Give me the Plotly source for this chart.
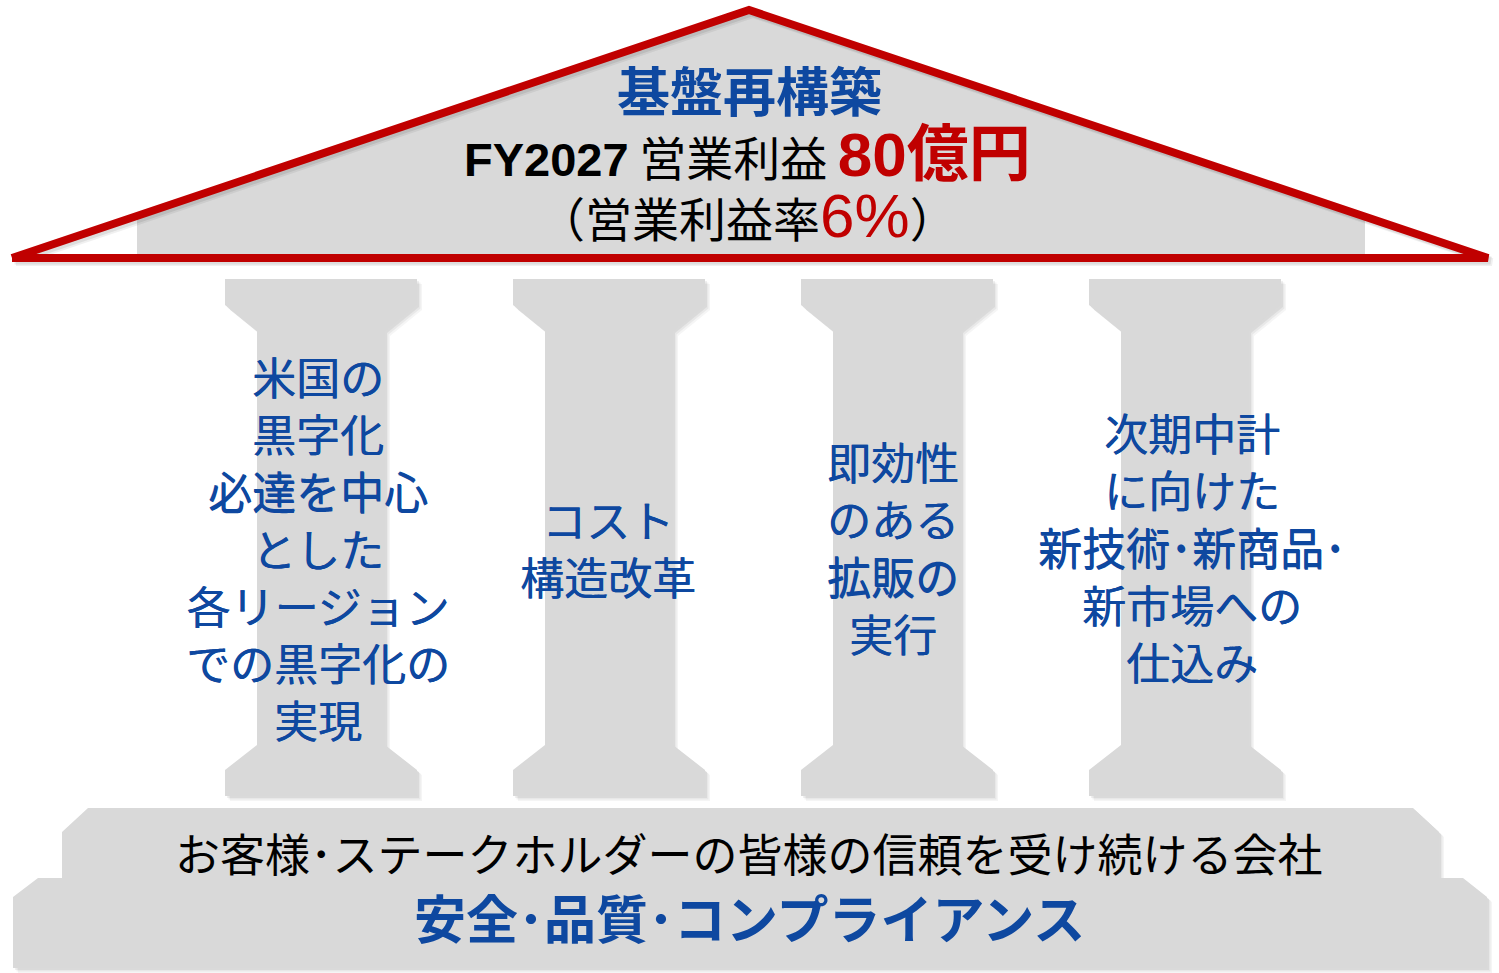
import plotly.graph_objects as go

# ---------------- content ----------------
roof_title = "基盤再構築"
target_prefix = "FY2027"
target_label = "営業利益"
target_value = "80億円"
margin_label = "営業利益率"
margin_value = "6%"

pillar_texts = [
    ["米国の", "黒字化", "必達を中心", "とした", "各リージョン", "での黒字化の", "実現"],
    ["コスト", "構造改革"],
    ["即効性", "のある", "拡販の", "実行"],
    ["次期中計", "に向けた", "新技術･新商品･", "新市場への", "仕込み"],
]
base_line1 = "お客様･ステークホルダーの皆様の信頼を受け続ける会社"
base_line2 = "安全･品質･コンプライアンス"

# ---------------- geometry / style ----------------
GREY = "#D9D9D9"
RED = "#C00000"
BLUE = "#0E48A0"
JP = "Noto Sans CJK JP"
LAT = "Liberation Sans"

pillar_left = [225, 513, 801, 1089]
pillar_text_cx = [318, 608, 893, 1192]
pillar_text_cy = [547, 547, 547, 546]

fig = go.Figure()

def poly(xs, ys, color, shadow=True):
    if shadow:
        for off, a in [(5, 0.04), (3.5, 0.05), (2, 0.06)]:
            fig.add_trace(go.Scatter(x=[v + off for v in xs] + [xs[0] + off],
                                     y=[v + off for v in ys] + [ys[0] + off],
                                     mode="lines", fill="toself",
                                     fillcolor=f"rgba(0,0,0,{a})", line=dict(width=0),
                                     hoverinfo="skip"))
    fig.add_trace(go.Scatter(x=xs + [xs[0]], y=ys + [ys[0]], mode="lines", fill="toself",
                             fillcolor=color, line=dict(width=0), hoverinfo="skip"))

# Roof grey body
poly([137, 137, 749, 1365, 1365], [258, 216, 12, 217, 258], GREY, shadow=False)

# Pillars
for xl in pillar_left:
    xs = [xl, xl + 192, xl + 192, xl + 160, xl + 160, xl + 192, xl + 192, xl, xl, xl + 32, xl + 32, xl]
    ys = [279, 279, 305, 331, 745, 770, 796, 796, 770, 745, 331, 305]
    poly(xs, ys, GREY)

# Base
bx = [88, 1413, 1439, 1439, 1463, 1487, 1487, 13, 13, 38, 62, 62]
by = [808, 808, 832, 878, 878, 897, 968, 968, 897, 878, 878, 832]
poly(bx, by, GREY)

# Roof red outline (with soft shadow)
for off, a in [(4, 0.06), (2.5, 0.08)]:
    fig.add_trace(go.Scatter(x=[12 + off, 749 + off, 1488 + off, 12 + off],
                             y=[258 + off, 10 + off, 258 + off, 258 + off],
                             mode="lines", line=dict(color=f"rgba(0,0,0,{a})", width=8),
                             hoverinfo="skip"))
fig.add_trace(go.Scatter(x=[12, 749, 1488, 12], y=[258, 10, 258, 258], mode="lines",
                         line=dict(color=RED, width=8), hoverinfo="skip"))

ann = []
def add_text(x, y, text, size, color, weight="normal", family=JP, shadow=None):
    f = dict(family=family, size=size, color=color, weight=weight)
    if shadow:
        f["shadow"] = shadow
    ann.append(dict(x=x, y=y, xref="x", yref="y", text=text,
                    showarrow=False, xanchor="center", yanchor="middle", font=f))

# Roof texts
add_text(749, 89, roof_title, 53, BLUE, weight="bold")
roof_lines = (
    f'<span style="font-family:{LAT};font-weight:bold">{target_prefix}</span> {target_label} '
    f'<span style="color:{RED};font-size:62px"><b>'
    f'<span style="font-family:{LAT}">{target_value[:2]}</span>{target_value[2:]}</b></span>'
    f'<br>（{margin_label}<span style="color:{RED};font-size:62px;font-family:{LAT}">'
    f'{margin_value}</span>）'
)
add_text(747, 177, roof_lines, 47, "#000000")

# Pillar texts
thick = f"0.5px 0.3px 0px {BLUE}"
for lines, cx, cy in zip(pillar_texts, pillar_text_cx, pillar_text_cy):
    add_text(cx, cy, "<br>".join(lines), 44, BLUE, shadow=thick)

# Base texts
add_text(749, 852, base_line1, 45, "#000000")
add_text(749, 916, base_line2, 52, BLUE, weight="bold")

fig.update_layout(
    width=1499, height=973, autosize=False,
    margin=dict(l=0, r=0, t=0, b=0, pad=0),
    paper_bgcolor="white", plot_bgcolor="white",
    showlegend=False,
    xaxis=dict(range=[0, 1499], visible=False, fixedrange=True),
    yaxis=dict(range=[973, 0], visible=False, fixedrange=True),
    annotations=ann,
)

fig.write_html("out.html", config={"displayModeBar": False},
               post_script="document.body.style.margin='0px';")
